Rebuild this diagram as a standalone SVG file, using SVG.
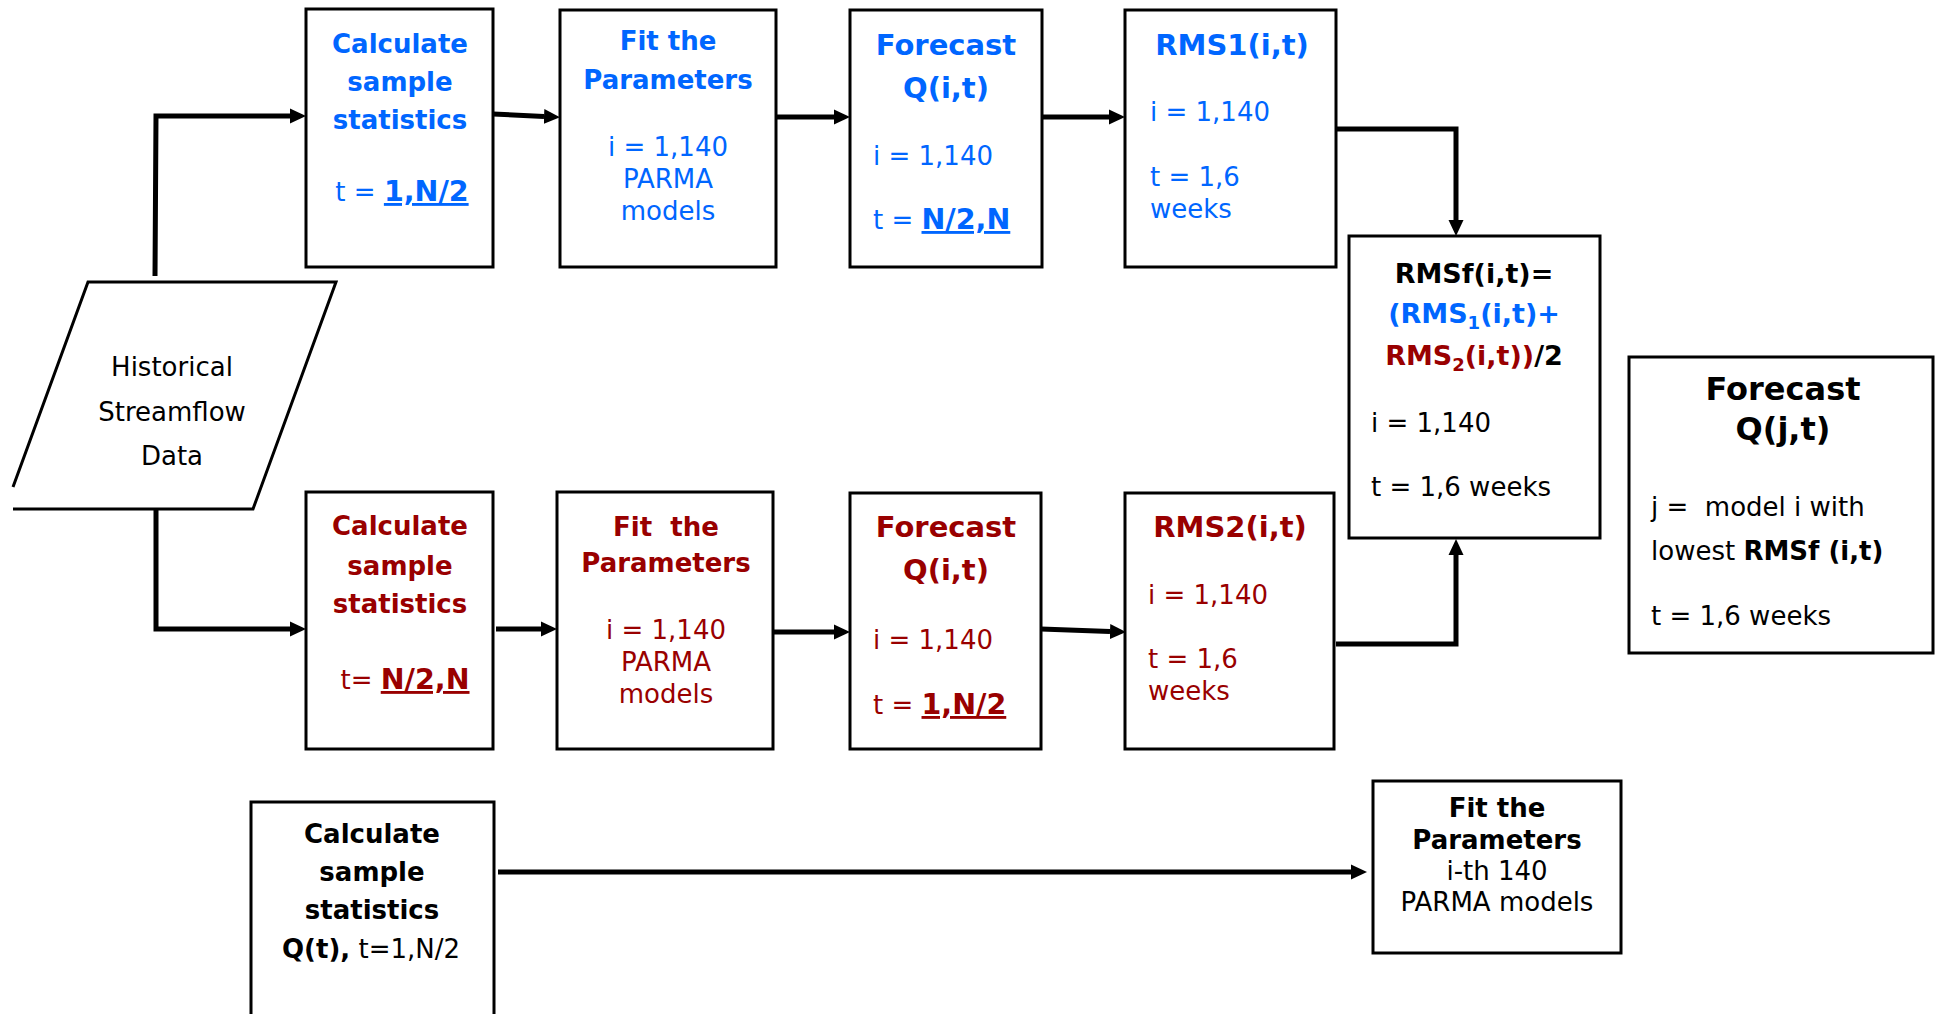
<svg xmlns="http://www.w3.org/2000/svg" width="1936" height="1014" viewBox="0 0 1936 1014">
<style>
text{font-family:"DejaVu Sans","Verdana",sans-serif;font-size:26px}
.b{font-weight:bold}
.t29{font-size:29px;font-weight:bold}
.t32{font-size:32px;font-weight:bold}
.blue{fill:#0066FF}
.red{fill:#990000}
.blk{fill:#000}
.m{text-anchor:middle}
.u{text-decoration:underline;font-weight:bold;font-size:28.5px}
.box{fill:#fff;stroke:#000;stroke-width:3}
.con{fill:none;stroke:#000;stroke-width:5}
</style>
<defs>
<marker id="ah" markerUnits="userSpaceOnUse" markerWidth="17" markerHeight="16" refX="0" refY="8" orient="auto">
<path d="M0,0.5 L16,8 L0,15.5 z" fill="#000"/>
</marker>
</defs>
<rect width="1936" height="1014" fill="#fff"/>

<g id="connectors">
<path class="con" d="M155,276 L156,116 L290,116" marker-end="url(#ah)"/>
<path class="con" d="M493,114 L544,116.5" marker-end="url(#ah)"/>
<path class="con" d="M776,117 H834" marker-end="url(#ah)"/>
<path class="con" d="M1042,117 H1109" marker-end="url(#ah)"/>
<path class="con" d="M1336,129 H1456 V220" marker-end="url(#ah)"/>
<path class="con" d="M156,509 V629 H290" marker-end="url(#ah)"/>
<path class="con" d="M496,629 H541" marker-end="url(#ah)"/>
<path class="con" d="M773,632 H834" marker-end="url(#ah)"/>
<path class="con" d="M1041,629 L1110,631.5" marker-end="url(#ah)"/>
<path class="con" d="M1336,644 H1456 V555" marker-end="url(#ah)"/>
<path class="con" d="M498,872 H1351" marker-end="url(#ah)"/>
</g>

<g id="historical">
<polygon points="88,282 336,282 253,509 13,509 13,487" fill="#fff" stroke="none"/>
<polyline points="13,487 88,282 336,282 253,509 13,509" fill="none" stroke="#000" stroke-width="3"/>
<text class="m blk" x="172" y="376">Historical</text>
<text class="m blk" x="172" y="421">Streamflow</text>
<text class="m blk" x="172" y="465">Data</text>
</g>

<g id="calc1">
<rect class="box" x="306" y="9" width="187" height="258"/>
<text class="m b blue" x="400" y="53">Calculate</text>
<text class="m b blue" x="400" y="91">sample</text>
<text class="m b blue" x="400" y="129">statistics</text>
<text class="m blue" x="402" y="201">t = <tspan class="u">1,N/2</tspan></text>
</g>

<g id="fit1">
<rect class="box" x="560" y="10" width="216" height="257"/>
<text class="m b blue" x="668" y="50">Fit the</text>
<text class="m b blue" x="668" y="89">Parameters</text>
<text class="m blue" x="668" y="156">i = 1,140</text>
<text class="m blue" x="668" y="188">PARMA</text>
<text class="m blue" x="668" y="220">models</text>
</g>

<g id="forecast1">
<rect class="box" x="850" y="10" width="192" height="257"/>
<text class="m t29 blue" x="946" y="55">Forecast</text>
<text class="m t29 blue" x="946" y="98">Q(i,t)</text>
<text class="blue" x="873" y="165">i = 1,140</text>
<text class="blue" x="873" y="229">t = <tspan class="u">N/2,N</tspan></text>
</g>

<g id="rms1">
<rect class="box" x="1125" y="10" width="211" height="257"/>
<text class="m t29 blue" x="1232" y="55">RMS1(i,t)</text>
<text class="blue" x="1150" y="121">i = 1,140</text>
<text class="blue" x="1150" y="186">t = 1,6</text>
<text class="blue" x="1150" y="218">weeks</text>
</g>

<g id="rmsf">
<rect class="box" x="1349" y="236" width="251" height="302"/>
<text class="m b blk" x="1474" y="283" style="font-size:27px">RMSf(i,t)=</text>
<text class="m b blue" x="1474" y="323" style="font-size:27px">(RMS<tspan font-size="18" dy="6">1</tspan><tspan dy="-6">(i,t)+</tspan></text>
<text class="m b" x="1474" y="365" style="font-size:27px"><tspan class="red">RMS<tspan font-size="18" dy="6">2</tspan><tspan dy="-6">(i,t))</tspan></tspan><tspan class="blk">/2</tspan></text>
<text class="blk" x="1371" y="432">i = 1,140</text>
<text class="blk" x="1371" y="496">t = 1,6 weeks</text>
</g>

<g id="forecastj">
<rect class="box" x="1629" y="357" width="304" height="296"/>
<text class="m t32 blk" x="1783" y="400">Forecast</text>
<text class="m t32 blk" x="1783" y="440">Q(j,t)</text>
<text class="blk" x="1651" y="516" xml:space="preserve">j =  model i with</text>
<text class="blk" x="1651" y="560">lowest <tspan class="b">RMSf (i,t)</tspan></text>
<text class="blk" x="1651" y="625">t = 1,6 weeks</text>
</g>

<g id="calc2">
<rect class="box" x="306" y="492" width="187" height="257"/>
<text class="m b red" x="400" y="535">Calculate</text>
<text class="m b red" x="400" y="575">sample</text>
<text class="m b red" x="400" y="613">statistics</text>
<text class="m red" x="405" y="689">t= <tspan class="u">N/2,N</tspan></text>
</g>

<g id="fit2">
<rect class="box" x="557" y="492" width="216" height="257"/>
<text class="m b red" x="666" y="536" xml:space="preserve">Fit  the</text>
<text class="m b red" x="666" y="572">Parameters</text>
<text class="m red" x="666" y="639">i = 1,140</text>
<text class="m red" x="666" y="671">PARMA</text>
<text class="m red" x="666" y="703">models</text>
</g>

<g id="forecast2">
<rect class="box" x="850" y="493" width="191" height="256"/>
<text class="m t29 red" x="946" y="537">Forecast</text>
<text class="m t29 red" x="946" y="580">Q(i,t)</text>
<text class="red" x="873" y="649">i = 1,140</text>
<text class="red" x="873" y="714">t = <tspan class="u">1,N/2</tspan></text>
</g>

<g id="rms2">
<rect class="box" x="1125" y="493" width="209" height="256"/>
<text class="m t29 red" x="1230" y="537">RMS2(i,t)</text>
<text class="red" x="1148" y="604">i = 1,140</text>
<text class="red" x="1148" y="668">t = 1,6</text>
<text class="red" x="1148" y="700">weeks</text>
</g>

<g id="calc3">
<rect class="box" x="251" y="802" width="243" height="260"/>
<text class="m b blk" x="372" y="843">Calculate</text>
<text class="m b blk" x="372" y="881">sample</text>
<text class="m b blk" x="372" y="919">statistics</text>
<text class="m blk" x="371" y="958"><tspan class="b">Q(t),</tspan> t=1,N/2</text>
</g>

<g id="fit3">
<rect class="box" x="1373" y="781" width="248" height="172"/>
<text class="m b blk" x="1497" y="817">Fit the</text>
<text class="m b blk" x="1497" y="849">Parameters</text>
<text class="m blk" x="1497" y="880">i-th 140</text>
<text class="m blk" x="1497" y="911">PARMA models</text>
</g>
</svg>
